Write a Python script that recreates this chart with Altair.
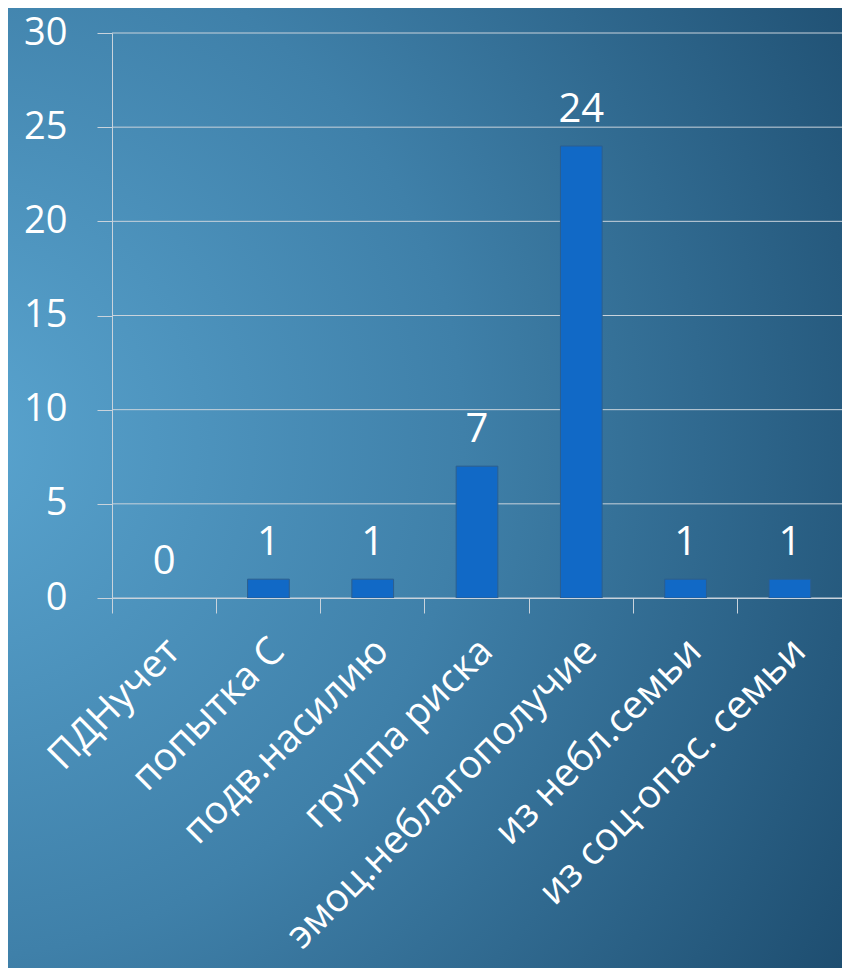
import altair as alt
import pandas as pd

categories = ["ПДНучет", "попытка С", "подв.насилию", "группа риска",
              "эмоц.неблагополучие", "из небл.семьи", "из соц-опас. семьи"]
values = [0, 1, 1, 7, 24, 1, 1]
y_ticks = [0, 5, 10, 15, 20, 25, 30]

df = pd.DataFrame({"cat": categories, "val": values})
grid_df = pd.DataFrame({"t": y_ticks})
FONT = "Open Sans"
LINE = "#c9d3dc"

W, H = 730, 565
PL, PT, PR, PB = 104, 25, 0, 370

bg = alt.Chart(pd.DataFrame({"a": [0]})).mark_rect(
    fill={
        "gradient": "radial",
        "x1": 0.0, "y1": 0.45, "r1": 0.0,
        "x2": 0.0, "y2": 0.45, "r2": 1.2,
        "stops": [
            {"offset": 0.0, "color": "#5aa5d0"},
            {"offset": 0.45, "color": "#3f80a9"},
            {"offset": 1.0, "color": "#174364"},
        ],
    },
    strokeWidth=0,
).encode(
    x=alt.value(-PL), x2=alt.value(W + PR),
    y=alt.value(-PT), y2=alt.value(H + PB),
)

grid = alt.Chart(grid_df).mark_rule(color=LINE, strokeWidth=1).encode(
    y=alt.Y("t:Q", scale=alt.Scale(domain=[0, 30]))
)

x_enc = alt.X(
    "cat:N", sort=categories, title=None,
    scale=alt.Scale(paddingInner=0, paddingOuter=0),
    axis=alt.Axis(
        bandPosition=0, labelAngle=-45, labelFont=FONT, labelFontSize=39,
        labelColor="white", labelPadding=18, labelOffset=-4, tickSize=15,
        tickColor=LINE, domainColor=LINE, labelLimit=600, grid=False, zindex=1,
    ),
)
y_enc = alt.Y(
    "val:Q", title=None,
    scale=alt.Scale(domain=[0, 30]),
    axis=alt.Axis(
        values=y_ticks, labelFont=FONT, labelFontSize=38, labelColor="white",
        labelPadding=30, tickSize=15, tickColor=LINE, domainColor=LINE,
        grid=False, zindex=1,
    ),
)

bars = alt.Chart(df).mark_bar(
    width=alt.RelativeBandSize(0.4), color="#1169c6", stroke="#2d5f8e",
).encode(
    x=x_enc, y=y_enc,
    strokeWidth=alt.condition("datum.val > 0", alt.value(1), alt.value(0)),
)

labels = alt.Chart(df).mark_text(
    font=FONT, fontSize=40, color="white", baseline="alphabetic", dy=-24,
).encode(x=alt.X("cat:N", sort=categories), y="val:Q", text="val:Q")

chart = alt.layer(bg, grid, bars, labels).properties(
    width=W, height=H,
    autosize=alt.AutoSizeParams(type="none"),
    padding={"left": PL, "top": PT, "right": PR, "bottom": PB},
).configure_view(stroke=None)

chart.save("out.html", embed_options={"renderer": "svg", "actions": False})
